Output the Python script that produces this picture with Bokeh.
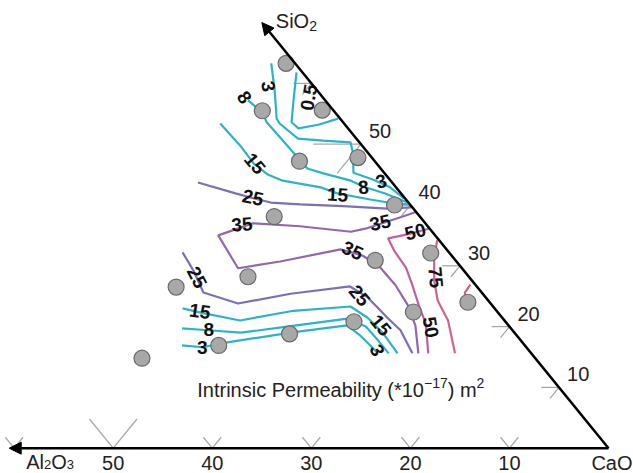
from bokeh.plotting import figure
from bokeh.models import Range1d, Arrow, NormalHead
from bokeh.embed import file_html
from bokeh.resources import INLINE
from bokeh.core.properties import value

# ---------------- data (compositions in wt%: Al2O3, SiO2; CaO = rest) ----------------
sample_al2o3 = [0.9, 7.2, 1.1, 7.6, 1.4, 14.7, 1.6, 1.9, 8.1, 22.3, 30.4, 2.2, 8.5, 15.3, 22.8, 30.9, 39.7]
sample_sio2 = [63.3, 55.5, 55.6, 47.2, 47.8, 38.1, 40.0, 32.1, 30.9, 28.2, 26.5, 24.0, 22.4, 20.8, 18.8, 16.9, 14.8]

c05_al2o3 = [0.6, 3.2, 5.2, 5.0, 2.7, 0.2]
c05_sio2 = [61.8, 57.2, 53.6, 52.6, 53.2, 54.2]
c3a_al2o3 = [2.4, 4.3, 6.4, 6.5, 5.9, 3.5, 0.9, 1.5, 3.1, 1.7, 0.6, 0.1]
c3a_sio2 = [63.3, 58.8, 54.2, 53.4, 50.9, 50.6, 50.3, 48.6, 45.3, 44.2, 42.9, 41.1]
c8a_al2o3 = [7.8, 7.3, 7.7, 7.6, 7.5, 7.5, 7.4, 6.2, 4.0, 3.2, 1.6, 0.1]
c8a_sio2 = [57.2, 55.2, 53.7, 51.1, 48.6, 47.3, 46.0, 45.2, 44.0, 43.0, 41.9, 40.4]
c15a_al2o3 = [12.5, 12.3, 12.4, 11.9, 10.9, 7.6, 6.4, 3.6, 1.4, 0.1]
c15a_sio2 = [53.4, 49.8, 46.8, 45.0, 44.0, 42.9, 41.9, 40.9, 40.2, 40.1]
c25a_al2o3 = [19.6, 16.7, 15.3, 13.9, 11.1, 6.9, 2.6, 0.1]
c25a_sio2 = [43.7, 41.9, 41.1, 40.4, 40.1, 39.8, 39.4, 39.6]
c35_al2o3 = [0.1, 2.2, 6.5, 8.2, 12.9, 17.4, 21.9, 22.6, 17.8, 10.7, 9.0, 8.2, 8.1, 8.5, 9.4, 11.4]
c35_sio2 = [38.8, 37.9, 36.1, 35.6, 36.5, 37.0, 35.0, 29.6, 30.7, 32.7, 31.7, 30.0, 26.8, 23.5, 20.2, 15.6]
c50_al2o3 = [0.1, 2.3, 5.0, 5.4, 5.6, 6.4, 7.4, 8.2, 10.4]
c50_sio2 = [36.1, 35.3, 34.5, 32.5, 29.7, 26.8, 23.5, 20.5, 15.6]
c75_al2o3 = [0.2, 2.0, 3.8, 5.1, 5.7, 7.7]
c75_sio2 = [34.2, 31.2, 27.6, 24.3, 21.0, 15.6]
c100_al2o3 = [0.5, 1.7, 2.3]
c100_sio2 = [26.9, 25.6, 24.3]
c25b_al2o3 = [26.9, 27.3, 28.1, 25.5, 19.4, 12.8, 11.9, 11.6, 11.3, 12.0]
c25b_sio2 = [32.2, 29.2, 25.6, 23.8, 25.4, 26.6, 24.8, 21.5, 19.4, 15.6]
c15b_al2o3 = [31.5, 30.0, 26.7, 20.5, 14.4, 13.6, 13.3, 13.5]
c15b_sio2 = [23.0, 22.3, 21.0, 22.6, 23.3, 21.5, 18.9, 15.6]
c8b_al2o3 = [33.2, 30.7, 27.6, 22.9, 15.7, 14.5, 14.4, 14.4]
c8b_sio2 = [19.7, 19.4, 19.0, 19.9, 21.3, 20.0, 17.7, 15.6]
c3b_al2o3 = [34.6, 32.7, 29.8, 22.6, 16.3, 15.8, 15.6, 15.5]
c3b_sio2 = [16.9, 16.6, 17.4, 19.0, 20.2, 18.5, 16.9, 15.6]

label_text = ["0.5", "3", "8", "15", "25", "15", "8", "3", "35", "35", "50", "35",
              "25", "15", "8", "3", "25", "15", "3", "75", "50"]
label_al2o3 = [1.4, 4.6, 7.9, 12.3, 15.3, 6.5, 3.3, 1.0, 18.6, 4.5, 1.7, 9.6,
               27.5, 30.0, 30.6, 32.7, 12.6, 12.9, 15.3, 3.4, 8.0]
label_sio2 = [57.7, 59.5, 57.7, 46.8, 41.2, 41.7, 42.9, 43.9, 36.8, 37.1, 35.6, 32.5,
              28.1, 22.5, 19.5, 16.6, 25.1, 20.2, 16.1, 28.1, 19.9]
label_angle = [80, -80, -55, -50, -12, -3, 5, 15, 5, 12, 15, -25,
               -62, -8, 0, 0, -50, -50, -65, -85, -80]

tick_values = [10, 20, 30, 40, 50, 60]
tick_labels = ["10", "20", "30", "40", "50"]
axis_end_al2o3 = 60.5
axis_end_sio2 = 70.0
# title pieces: (text, is_superscript)
title_parts = [("Intrinsic Permeability (*10", False), ("\u221217", True), (") m", False), ("2", True)]
al2o3_parts = [("Al", False), ("2", True), ("O", False), ("3", True)]
sio2_parts = [("SiO", False), ("2", True)]


def tern(al, si):
    xs = [100.0 - a - s / 2.0 for a, s in zip(al, si)]
    return xs, list(si)


# Arial / Liberation Sans advance widths (em)
ADV = {"I": .278, "n": .556, "t": .278, "r": .333, "i": .222, "s": .5, "c": .5, " ": .278,
       "P": .667, "e": .556, "m": .833, "a": .556, "b": .556, "l": .222, "y": .5, "(": .333,
       "*": .389, "0": .556, "1": .556, "2": .556, "3": .556, "7": .556, ")": .333,
       "\u2212": .584, "A": .667, "O": .778, "S": .667}


def text_width(t, size):
    return sum(ADV.get(ch, .556) for ch in t) * size


# ---------------- figure ----------------
W, H = 633, 473
XR = (38.62, 102.52)
YR = (-4.161, 73.63)
PXX = W / (XR[1] - XR[0])
PXY = H / (YR[1] - YR[0])

p = figure(width=W, height=H, x_range=Range1d(*XR), y_range=Range1d(*YR),
           output_backend="svg", toolbar_location=None, min_border=0,
           x_axis_type=None, y_axis_type=None, outline_line_color=None)
p.grid.visible = False
p.background_fill_color = "white"

FONT = value("Liberation Sans")
TXT = "#222222"


def rich_text(x0, y0, parts, size, small, shift):
    """Draw text pieces left to right; small pieces shifted by `shift` px (neg = down)."""
    x = x0
    for t, sm in parts:
        fs = small if sm else size
        yy = y0 + (shift / PXY if sm else 0)
        p.text([x], [yy], text=[t], text_font=FONT, text_font_size=f"{fs}px",
               text_color=TXT, text_align="left", text_baseline="middle")
        x += text_width(t, fs) / PXX


# ---- tick marks (grey) ----
tx0, ty0, tx1, ty1 = [], [], [], []
for v in tick_values:
    d = 4.8 if v == 50 else 1.8
    bx, by = tern([v], [0])
    for (a2, s2) in [(v, d), (v - d, d)]:
        ex, ey = tern([a2], [s2])
        tx0.append(bx[0]); ty0.append(by[0]); tx1.append(ex[0]); ty1.append(ey[0])
    rx, ry = tern([0], [v])
    for (a2, s2) in [(d, v), (d, v - d)]:
        ex, ey = tern([a2], [s2])
        tx0.append(rx[0]); ty0.append(ry[0]); tx1.append(ex[0]); ty1.append(ey[0])
p.segment(tx0, ty0, tx1, ty1, line_color="#a8a8a8", line_width=1.3)

# ---- contour lines ----
cyan = "#2ab4c8"
contours = [
    (c05_al2o3, c05_sio2, cyan),
    (c3a_al2o3, c3a_sio2, cyan),
    (c8a_al2o3, c8a_sio2, cyan),
    (c15a_al2o3, c15a_sio2, cyan),
    (c25a_al2o3, c25a_sio2, "#7b70b6"),
    (c35_al2o3, c35_sio2, "#9068ae"),
    (c50_al2o3, c50_sio2, "#c2609e"),
    (c75_al2o3, c75_sio2, "#d0648e"),
    (c100_al2o3, c100_sio2, "#d4607a"),
    (c25b_al2o3, c25b_sio2, "#7b70b6"),
    (c15b_al2o3, c15b_sio2, cyan),
    (c8b_al2o3, c8b_sio2, cyan),
    (c3b_al2o3, c3b_sio2, cyan),
]
for al, si, col in contours:
    xs, ys = tern(al, si)
    p.line(xs, ys, line_color=col, line_width=2.2)

# ---- axes with arrows ----
cx, cy = tern([0], [0])
lx, ly = tern([axis_end_al2o3], [0])
ax_, ay_ = tern([0], [axis_end_sio2])
for ex, ey in [(lx[0], ly[0]), (ax_[0], ay_[0])]:
    p.add_layout(Arrow(end=NormalHead(size=12, fill_color="black", line_color="black"),
                       x_start=cx[0], y_start=cy[0], x_end=ex, y_end=ey,
                       line_color="black", line_width=2.5))

# ---- samples ----
sx, sy = tern(sample_al2o3, sample_sio2)
p.scatter(sx, sy, size=16, fill_color="#a8a8a8", line_color="#6a6a6a", line_width=1.2)

# ---- contour labels ----
lxs, lys = tern(label_al2o3, label_sio2)
p.text(lxs, lys, text=label_text, angle=label_angle, angle_units="deg",
       text_font=FONT, text_font_style="bold", text_font_size="19px",
       text_color="#111111", text_align="center", text_baseline="middle")

# ---- tick labels ----
vals = [int(t) for t in tick_labels]
rxs, rys = tern([0] * len(vals), vals)
p.text([x + 8 / PXX for x in rxs], [y + 13 / PXY for y in rys], text=tick_labels,
       text_font=FONT, text_font_size="20px", text_color=TXT,
       text_align="left", text_baseline="middle")
bxs, bys = tern(vals, [0] * len(vals))
base_y = -14.5 / PXY
p.text(bxs, [base_y] * len(vals), text=tick_labels,
       text_font=FONT, text_font_size="20px", text_color=TXT,
       text_align="center", text_baseline="middle")

# ---- axis names ----
rich_text(lx[0] + 17 / PXX, base_y + 1.0 / PXY, al2o3_parts, 20, 13, -3)
p.text([XR[1] - 1 / PXX], [base_y], text=["CaO"], text_font=FONT,
       text_font_size="20px", text_color=TXT, text_align="right", text_baseline="middle")
rich_text(ax_[0] + 14 / PXX, ay_[0] + 1.5 / PXY, sio2_parts, 20, 14, -5)

# ---- title ----
rich_text(58.48, (447.7 - 390.0) / PXY, title_parts, 20, 14, 7)

open("out.html", "w").write(file_html(p, INLINE))
